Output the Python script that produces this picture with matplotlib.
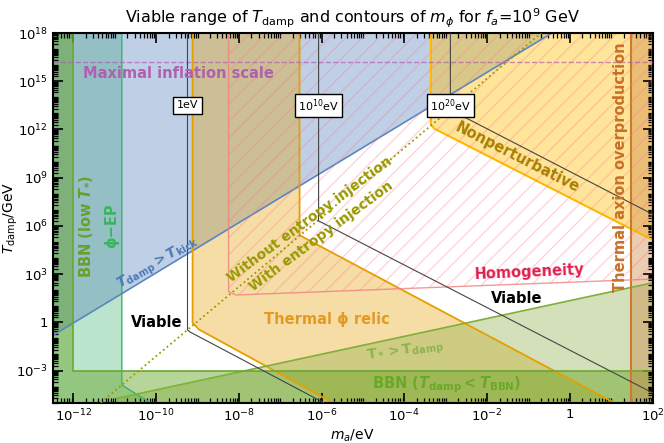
import numpy as np
import matplotlib.pyplot as plt
from matplotlib.ticker import LogLocator, NullFormatter

plt.rcParams['mathtext.fontset'] = 'dejavusans'

# region boundaries as log10(m_a/eV), log10(T_damp/GeV)
x_lim = [-12.5, 2.0]
y_lim = [-5.0, 18.0]

bbn_x = [-12.5, -12.5, -12.0, -12.0, 2.0, 2.0]
bbn_y = [-5.0, 18.0, 18.0, -3.0, -3.0, -5.0]

ep_x = [-12.5, -10.83, -10.83, -10.145, -12.5]
ep_y = [18.0, 18.0, -3.9, -5.0, -5.0]

kick_x = [-12.5, -0.436, -12.5]
kick_y = [-0.82, 18.0, 18.0]

relic_x = [-9.12, -6.535, -6.535, -6.45, 1.064, -5.73, -8.97, -9.12]
relic_y = [18.0, 18.0, 5.45, 5.30, -5.0, -5.0, -0.44, -0.03]

nonpert_x = [-3.36, -3.36, -3.28, 2.0, 2.0]
nonpert_y = [18.0, 12.3, 12.05, 5.12, 18.0]

axion_x = [1.487, 1.487, 2.0, 2.0]
axion_y = [-5.0, 18.0, 18.0, -5.0]

homog_x = [-8.25, -8.25, -8.065, 2.0, 2.0]
homog_y = [18.0, 1.90, 1.70, 2.69, 18.0]

tstar_x = [-10.95, 2.0, 2.0, -10.95]
tstar_y = [-4.73, 2.46, -5.0, -5.0]

entropy_x = [-11.34, -0.694]
entropy_y = [-5.0, 18.0]

inflation_T = 16.21

# m_phi contours
contour_labels = ['1eV', '$10^{10}$eV', '$10^{20}$eV']
contour_x = [[-9.243, -9.243, -9.19, -5.95],
             [-6.075, -6.075, -5.99, 2.0],
             [-2.89, -2.89, -2.80, 2.0]]
contour_y = [[18.0, -0.465, -0.59, -5.0],
             [18.0, 6.3, 6.2, -4.39],
             [18.0, 13.26, 13.1, 6.72]]
contour_label_T = 13.5

xtick_exp = np.arange(-12, 3, 2)
ytick_exp = np.arange(-3, 19, 3)


def P(a):
    return 10.0 ** np.asarray(a, dtype=float)


def lab(e):
    return '$1$' if e == 0 else '$10^{%d}$' % e


def region(ax, x, y, fc, alpha, ec, lw, z=1):
    ax.fill(P(x), P(y), fc=fc, alpha=alpha, ec='none', zorder=z)
    ax.fill(P(x), P(y), fc='none', ec=ec, lw=lw, zorder=2)


fig = plt.figure(figsize=(6.64, 4.43), dpi=100)
ax = fig.add_axes([0.0794, 0.091, 0.9036, 0.8345])
ax.set_xscale('log')
ax.set_yscale('log')

# filled regions
region(ax, ep_x, ep_y, '#3cb371', 0.35, '#3cb371', 1.0)
region(ax, kick_x, kick_y, '#4a7ab8', 0.35, '#5a86bf', 1.2)
region(ax, relic_x, relic_y, '#E69F00', 0.35, '#E69F00', 1.3)
region(ax, nonpert_x, nonpert_y, '#FFC000', 0.4, '#FFB800', 1.5)
region(ax, tstar_x, tstar_y, '#8db04a', 0.38, '#7fb03a', 1.2)
region(ax, bbn_x, bbn_y, '#63a21e', 0.45, '#6aa832', 1.2)
region(ax, axion_x, axion_y, '#cd853f', 0.4, '#cd7a30', 1.5)
ax.fill(P(homog_x), P(homog_y), fc='none', ec=(1.0, 0.45, 0.55, 0.3), hatch='//', lw=0, zorder=2)
ax.plot(P(homog_x[:4]), P(homog_y[:4]), color='#f08080', lw=1.0, alpha=0.8, zorder=2)

ax.plot(P(entropy_x), P(entropy_y), color='#999900', ls=':', lw=1.3, zorder=3)
ax.axhline(P(inflation_T), color='#b060b0', ls='--', lw=1.0, alpha=0.7, zorder=3)

for cx, cy, cl in zip(contour_x, contour_y, contour_labels):
    ax.plot(P(cx), P(cy), color='#444444', lw=0.8, zorder=4)
    ax.text(P(cx[0]), P(contour_label_T), cl, fontsize=8, ha='center', va='center', zorder=6,
            bbox=dict(boxstyle='square,pad=0.3', fc='white', ec='black', lw=1.0))

# region labels
bold = dict(fontsize=10.5, fontweight='bold', zorder=7)
bold10 = dict(fontsize=10, fontweight='bold', zorder=7)
ax.text(P(-11.77), P(15.45), 'Maximal inflation scale', color='#b060b0', ha='left', va='center', **bold)
ax.text(P(-11.68), P(6.0), r'BBN (low $\mathbfit{T}_{\mathbf{*}}$)', color='#6a9f2a',
        rotation=90, ha='center', va='center', **bold)
ax.text(P(-11.07), P(6.0), 'ϕ−EP', color='#3cb364', rotation=90, ha='center', va='center', **bold)
ax.text(P(-9.96), P(3.67), r'$\mathbfit{T}_{\mathbf{damp}}\mathbf{>}\mathbfit{T}_{\mathbf{kick}}$',
        color='#4a7ab8', rotation=30, ha='center', va='center', rotation_mode='anchor', **bold10)
ax.text(P(-9.99), P(0.0), 'Viable', color='black', ha='center', va='center', **bold)
ax.text(P(-1.294), P(1.49), 'Viable', color='black', ha='center', va='center', **bold)
ax.text(P(-5.88), P(0.18), 'Thermal ϕ relic', color='#e39a25', ha='center', va='center', **bold)
ax.text(P(-6.24), P(6.18), 'Without entropy injection', color='#999900', rotation=36.5,
        ha='center', va='baseline', rotation_mode='anchor', **bold10)
ax.text(P(-5.95), P(5.15), 'With entropy injection', color='#999900', rotation=36.5,
        ha='center', va='baseline', rotation_mode='anchor', **bold10)
ax.text(P(-1.277), P(10.25), 'Nonperturbative', color='#a88000', rotation=-27,
        ha='center', va='center', rotation_mode='anchor', **bold)
ax.text(P(-0.987), P(3.11), 'Homogeneity', color='#e0204f', rotation=2.5,
        ha='center', va='center', rotation_mode='anchor', **bold)
ax.text(P(-3.98), P(-1.83), r'$\mathbf{T_*{>}T_{damp}}$', color='#8cb450', rotation=8,
        ha='center', va='center', rotation_mode='anchor', **bold10)
ax.text(P(-2.99), P(-3.9), r'BBN ($\mathbfit{T}_{\mathbf{damp}}\mathbf{<}\mathbfit{T}_{\mathbf{BBN}}$)',
        color='#6aa82a', ha='center', va='center', **bold)
ax.text(P(1.22), P(9.66), 'Thermal axion overproduction', color='#c87028', rotation=90,
        ha='center', va='center', **bold)

ax.set_xlim(P(x_lim))
ax.set_ylim(P(y_lim))
ax.set_xticks(P(xtick_exp))
ax.set_xticklabels([lab(e) for e in xtick_exp])
ax.set_yticks(P(ytick_exp))
ax.set_yticklabels([lab(e) for e in ytick_exp])
ax.xaxis.set_minor_locator(LogLocator(base=10, subs=np.arange(1, 10), numticks=200))
ax.yaxis.set_minor_locator(LogLocator(base=10, subs=np.arange(1, 10), numticks=200))
ax.xaxis.set_minor_formatter(NullFormatter())
ax.yaxis.set_minor_formatter(NullFormatter())
ax.tick_params(which='both', direction='in', top=True, right=True, labelsize=9.5)
ax.tick_params(which='major', length=7.5, width=1.2)
ax.tick_params(which='minor', length=3.5, width=0.9)
for s in ax.spines.values():
    s.set_linewidth(1.5)

ax.set_xlabel('$m_a$/eV', fontsize=10)
ax.set_ylabel(r'$T_\mathrm{damp}$/GeV', fontsize=10)
ax.xaxis.set_label_coords(0.5, -0.068)
ax.yaxis.set_label_coords(-0.054, 0.5)
ax.set_title(r'Viable range of $T_\mathrm{damp}$ and contours of $m_\phi$ for $f_a$=10$^9$ GeV',
             fontsize=11.5, pad=7)

fig.savefig('out.png', dpi=100)
